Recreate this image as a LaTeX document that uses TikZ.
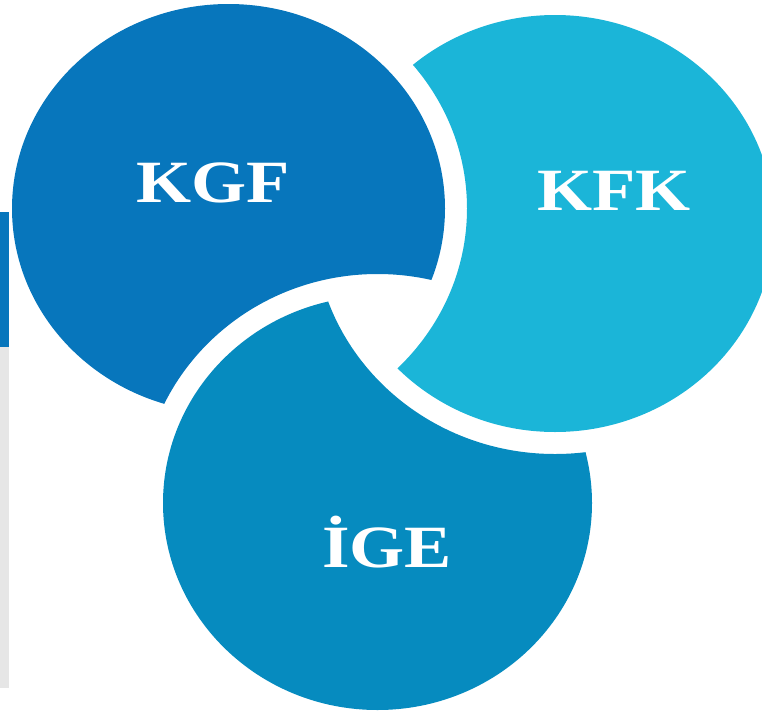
\documentclass[tikz,border=0pt]{standalone}
\usepackage{fontspec}
\newfontfamily\tagfont[FakeStretch=1.18]{Liberation Serif}
\definecolor{kgfblue}{RGB}{7,118,188}
\definecolor{kfkblue}{RGB}{27,181,216}
\definecolor{igeblue}{RGB}{6,139,191}
\definecolor{bargray}{RGB}{230,230,230}

\begin{document}
\begin{tikzpicture}[x=1pt,y=1pt]
\tikzstyle{every node}+=[inner sep=0pt]
\tikzstyle{tagtext}=[text=white, anchor=base, font=\tagfont\bfseries\fontsize{60}{60}\selectfont]
\useasboundingbox (0,0) rectangle (762,-712);
% side bar
\fill [kgfblue] (0,-212) rectangle (9,-347);
\fill [bargray] (0,-347) rectangle (9,-688);
% circle centres
\coordinate (kgf) at (228.5,-208.5);
\coordinate (kfk) at (555,-223.5);
\coordinate (ige) at (377.5,-503);
% KGF, cut by the ring of IGE
\begin{scope}
\clip (kgf) ellipse [x radius=216.5, y radius=204.5];
\fill [kgfblue, even odd rule] (0,0) rectangle (762,-712) (ige) ellipse [x radius=236.5, y radius=229];
\end{scope}
% KFK, cut by the ring of KGF
\begin{scope}
\clip (kfk) ellipse [x radius=219, y radius=208.5];
\fill [kfkblue, even odd rule] (0,0) rectangle (762,-712) (kgf) ellipse [x radius=238.5, y radius=226.5];
\end{scope}
% IGE, cut by the ring of KFK
\begin{scope}
\clip (ige) ellipse [x radius=214.5, y radius=207];
\fill [igeblue, even odd rule] (0,0) rectangle (762,-712) (kfk) ellipse [x radius=241, y radius=230.5];
\end{scope}
% labels
\node [tagtext] (kgftext) at (213.5,-202) {KGF};
\node [tagtext] (kfktext) at (614,-210) {KFK};
\node [tagtext] (igetext) at (387,-567) {İGE};
\end{tikzpicture}
\end{document}
